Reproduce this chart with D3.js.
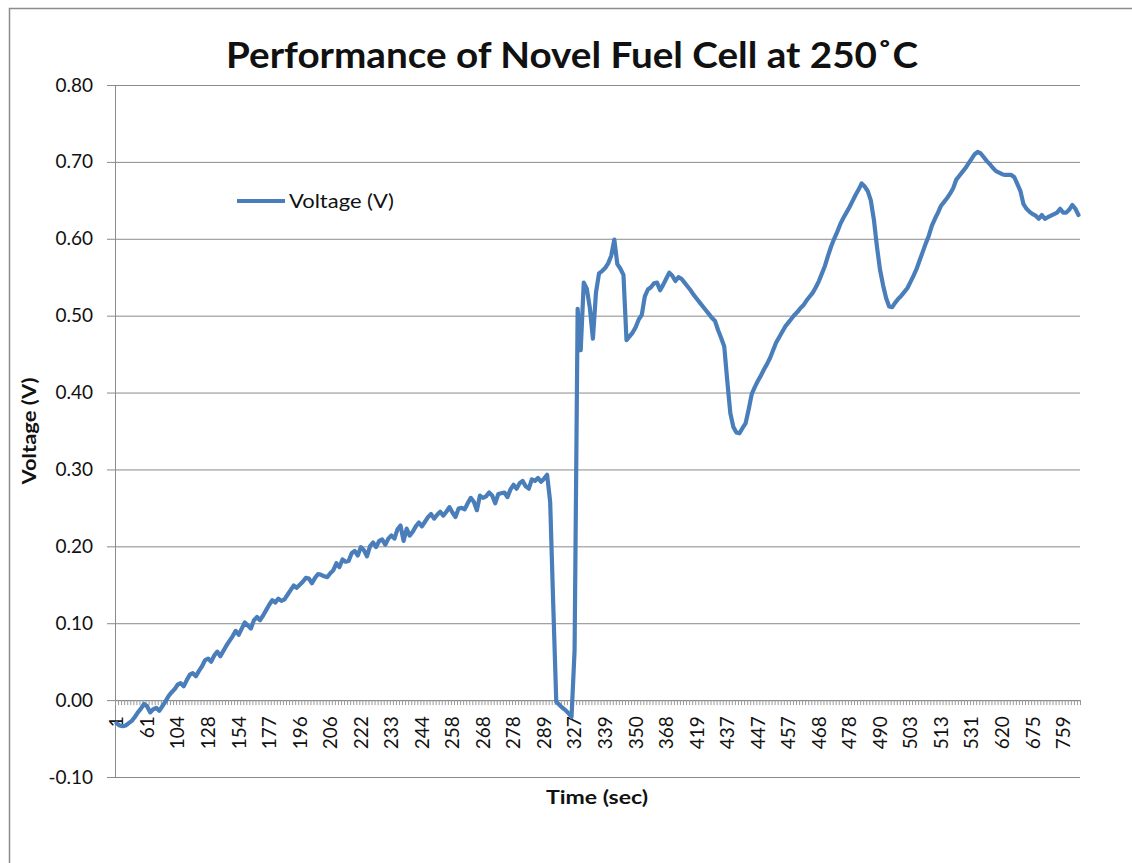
<!DOCTYPE html>
<html>
<head>
<meta charset="utf-8">
<script src="https://cdn.jsdelivr.net/npm/d3@7"></script>
<style>
  html, body { margin: 0; padding: 0; background: #fff; }
  svg { display: block; }
  text { font-family: Lato, "Open Sans", sans-serif; fill: #111; }
</style>
</head>
<body>
<svg id="chart" width="1132" height="863"></svg>
<script>
// Voltage readings, one per logged sample (category axis)
const voltage = [
  -0.030,-0.033,-0.034,-0.033,-0.030,-0.027,-0.022,-0.016,-0.011,-0.005,
  -0.008,-0.016,-0.012,-0.010,-0.014,-0.008,-0.002,0.005,0.010,0.014,
  0.020,0.022,0.018,0.026,0.033,0.035,0.031,0.038,0.044,0.052,
  0.054,0.050,0.058,0.063,0.057,0.064,0.071,0.077,0.083,0.090,
  0.085,0.093,0.101,0.097,0.093,0.104,0.108,0.104,0.110,0.117,
  0.124,0.130,0.127,0.132,0.129,0.131,0.137,0.143,0.149,0.146,
  0.150,0.154,0.159,0.158,0.152,0.159,0.164,0.163,0.161,0.160,
  0.165,0.169,0.178,0.173,0.183,0.180,0.181,0.191,0.194,0.188,
  0.199,0.195,0.187,0.200,0.205,0.199,0.207,0.209,0.202,0.210,
  0.214,0.210,0.222,0.227,0.207,0.223,0.214,0.219,0.226,0.231,
  0.226,0.232,0.238,0.242,0.236,0.241,0.245,0.240,0.245,0.251,
  0.244,0.238,0.249,0.250,0.248,0.256,0.263,0.258,0.247,
  0.266,0.263,0.265,0.270,0.266,0.256,0.268,0.269,0.270,0.264,
  0.274,0.280,0.275,0.282,0.285,0.278,0.275,0.287,0.285,0.289,
  0.284,0.288,0.293,0.258,0.125,-0.002,-0.006,-0.010,-0.013,-0.017,
  -0.022,0.065,0.509,0.455,0.543,0.535,0.510,0.470,0.530,0.555,
  0.558,0.562,0.568,0.578,0.599,0.567,0.561,0.553,0.468,0.473,
  0.478,0.485,0.495,0.501,0.525,0.534,0.537,0.542,0.543,0.533,
  0.540,0.548,0.556,0.552,0.545,0.550,0.548,0.543,0.538,0.533,
  0.527,0.522,0.517,0.512,0.507,0.502,0.497,0.493,
  0.481,0.471,0.460,0.415,0.373,0.355,0.348,0.347,0.354,0.360,
  0.378,0.398,0.407,0.415,0.422,0.430,0.437,0.445,0.455,0.465,
  0.472,0.479,0.486,0.491,0.496,0.501,0.505,0.510,0.514,0.520,
  0.525,0.530,0.537,0.545,0.555,0.565,0.578,0.590,0.600,0.609,
  0.619,0.627,0.634,0.641,0.649,0.657,0.664,0.672,0.668,0.662,
  0.650,0.625,0.590,0.560,0.540,0.523,0.512,0.511,0.517,0.522,
  0.526,0.531,0.536,0.544,0.552,0.561,0.572,0.583,0.594,0.604,
  0.617,0.626,0.634,0.643,0.648,0.653,0.659,0.666,
  0.677,0.682,0.687,0.692,0.698,0.704,0.710,0.713,0.711,0.706,
  0.701,0.697,0.692,0.688,0.686,0.684,0.683,0.683,0.683,0.680,
  0.671,0.662,0.645,0.639,0.635,0.632,0.630,0.626,0.631,0.626,
  0.628,0.630,0.632,0.634,0.639,0.634,0.634,0.638,0.644,0.639,0.631
];

// Time labels shown under every 10th sample
const timeLabels = ["1","61","104","128","154","177","196","206","222","233",
  "244","258","268","278","289","327","339","350","368","419","437","447",
  "457","468","478","490","503","513","531","620","675","759"];
const labelEvery = 10;

// Voltage axis ticks
const yTicks = [-0.10, 0.00, 0.10, 0.20, 0.30, 0.40, 0.50, 0.60, 0.70, 0.80];

const titleText = "Performance of Novel Fuel Cell at 250˚C";
const seriesName = "Voltage (V)";

const svg = d3.select("#chart");
const plot = { left: 115, right: 1080, top: 85, bottom: 777 };
const N = voltage.length;
const lineColor = "#4a7ebb";
const gridColor = "#8a8a8a";

const x = d3.scaleBand().domain(d3.range(N)).range([plot.left, plot.right]);
const xEdge = d3.scaleLinear().domain([0, N]).range([plot.left, plot.right]);
const y = d3.scaleLinear().domain([-0.1, 0.8]).range([plot.bottom, plot.top]);

// outer chart frame
svg.append("rect")
  .attr("x", 9.5).attr("y", 8.5).attr("width", 1200).attr("height", 950)
  .attr("fill", "none").attr("stroke", "#8c8c8c").attr("stroke-width", 1.5);

// horizontal gridlines
svg.append("g")
  .attr("transform", `translate(${plot.left},0)`)
  .call(d3.axisLeft(y).tickValues(yTicks).tickSize(-(plot.right - plot.left)).tickFormat(""))
  .call(g => g.select(".domain").remove())
  .call(g => g.selectAll("line").attr("stroke", gridColor).attr("stroke-width", 1));

// vertical value axis with labels
svg.append("g")
  .attr("transform", `translate(${plot.left},0)`)
  .call(d3.axisLeft(y).tickValues(yTicks).tickSize(8).tickSizeOuter(0).tickPadding(14)
    .tickFormat(d => d.toFixed(2)))
  .call(g => g.select(".domain").attr("stroke", gridColor))
  .call(g => g.selectAll("line").attr("stroke", gridColor))
  .call(g => g.selectAll("text").attr("font-size", 19).attr("fill", "#1a1a1a")
    .style("font-family", "Lato, sans-serif"));

// category axis at zero: line and a tick between every sample
const zeroY = y(0);
svg.append("g")
  .attr("transform", `translate(0,${zeroY})`)
  .call(d3.axisBottom(xEdge).tickValues(d3.range(0, N + 1)).tickSize(5).tickSizeOuter(0).tickFormat(""))
  .call(g => g.select(".domain").attr("stroke", gridColor))
  .call(g => g.selectAll("line").attr("stroke", "#9a9a9a").attr("stroke-width", 1));

// rotated time labels
svg.append("g")
  .attr("transform", `translate(0,${zeroY})`)
  .call(d3.axisBottom(x).tickValues(d3.range(0, N, labelEvery))
    .tickFormat(i => timeLabels[i / labelEvery]).tickSize(0))
  .call(g => g.select(".domain").remove())
  .call(g => g.selectAll("text")
    .attr("transform", "rotate(-90)")
    .attr("x", -16).attr("y", 0).attr("dy", "0.36em")
    .attr("text-anchor", "end")
    .attr("font-size", 19).attr("fill", "#1a1a1a")
    .style("font-family", "Lato, sans-serif"));

// voltage trace
const line = d3.line()
  .x((d, i) => x(i) + x.bandwidth() / 2)
  .y(d => y(d));
svg.append("path")
  .datum(voltage)
  .attr("d", line)
  .attr("fill", "none")
  .attr("stroke", lineColor)
  .attr("stroke-width", 4.2)
  .attr("stroke-linejoin", "round")
  .attr("stroke-linecap", "round");

// title
svg.append("text")
  .attr("x", 572).attr("y", 68)
  .attr("text-anchor", "middle")
  .attr("font-size", 36).attr("font-weight", 700)
  .attr("textLength", 692).attr("lengthAdjust", "spacingAndGlyphs")
  .text(titleText);

// axis titles
svg.append("text")
  .attr("transform", "translate(36,431) rotate(-90)")
  .attr("text-anchor", "middle")
  .attr("font-size", 18).attr("font-weight", 700)
  .attr("textLength", 107).attr("lengthAdjust", "spacingAndGlyphs")
  .text("Voltage (V)");

svg.append("text")
  .attr("x", 597).attr("y", 804)
  .attr("text-anchor", "middle")
  .attr("font-size", 18).attr("font-weight", 700)
  .attr("textLength", 102).attr("lengthAdjust", "spacingAndGlyphs")
  .text("Time (sec)");

// legend
const legend = svg.append("g").attr("transform", "translate(237,201)");
legend.append("line")
  .attr("x1", 0).attr("x2", 48).attr("y1", 0).attr("y2", 0)
  .attr("stroke", lineColor).attr("stroke-width", 4.2);
legend.append("text")
  .attr("x", 52).attr("y", 0).attr("dy", "0.35em")
  .attr("font-size", 19)
  .attr("textLength", 105).attr("lengthAdjust", "spacingAndGlyphs")
  .text(seriesName);
</script>
</body>
</html>
